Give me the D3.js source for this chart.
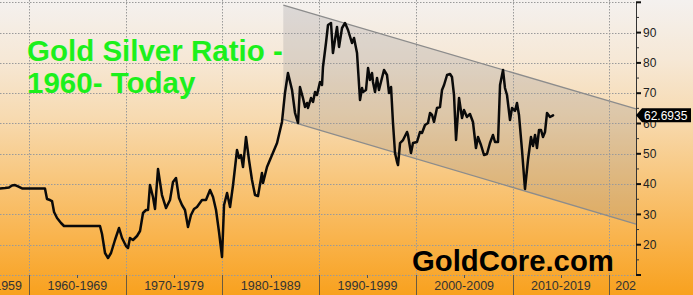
<!DOCTYPE html>
<html><head><meta charset="utf-8">
<script src="https://cdn.jsdelivr.net/npm/d3@7"></script>
<style>html,body{margin:0;padding:0;overflow:hidden;background:#fff}svg{display:block}</style>
</head><body>
<script>
const years = [1957.00,1957.52,1957.93,1958.24,1958.55,1958.86,1959.28,1960.10,1961.65,1961.86,1962.17,1962.38,1962.59,1962.90,1963.31,1963.62,1967.34,1967.55,1967.86,1968.17,1968.48,1968.89,1969.31,1969.62,1970.03,1970.24,1970.44,1970.75,1971.17,1971.48,1971.79,1972.10,1972.31,1972.51,1972.82,1973.03,1973.34,1973.75,1974.17,1974.58,1974.89,1975.20,1975.51,1975.82,1976.13,1976.44,1976.75,1977.06,1977.37,1977.89,1978.30,1978.72,1979.03,1979.34,1979.65,1979.96,1980.17,1980.48,1980.79,1981.10,1981.51,1981.72,1981.92,1982.13,1982.44,1982.75,1983.06,1983.37,1983.68,1984.09,1984.20,1984.61,1985.13,1985.65,1986.16,1986.47,1986.78,1987.20,1987.51,1987.82,1988.02,1988.33,1988.54,1988.75,1988.85,1989.16,1989.37,1989.58,1989.78,1990.09,1990.30,1990.40,1990.71,1990.92,1991.23,1991.43,1991.85,1992.06,1992.37,1992.68,1992.99,1993.40,1993.61,1993.92,1994.23,1994.44,1994.54,1994.85,1995.06,1995.26,1995.47,1995.57,1995.78,1995.99,1996.19,1996.50,1996.71,1997.02,1997.23,1997.44,1997.64,1997.85,1998.06,1998.16,1998.37,1998.68,1999.09,1999.19,1999.50,1999.71,2000.12,2000.43,2000.64,2000.95,2001.26,2001.47,2001.68,2001.88,2002.19,2002.50,2002.71,2002.92,2003.23,2003.54,2003.74,2003.95,2004.16,2004.47,2004.78,2004.98,2005.29,2005.60,2005.91,2006.22,2006.43,2006.74,2007.05,2007.36,2007.67,2007.98,2008.19,2008.50,2008.71,2009.02,2009.22,2009.43,2009.74,2009.95,2010.26,2010.46,2010.67,2010.98,2011.29,2011.60,2011.91,2012.12,2012.33,2012.53,2012.74,2012.95,2013.15,2013.36,2013.57,2013.88,2014.19];
const ratio = [38.55,38.71,38.88,39.54,39.70,39.21,38.55,38.55,38.55,35.08,34.75,34.42,30.79,28.81,27.16,26.17,26.17,23.53,17.26,15.60,17.26,21.55,25.51,22.21,19.57,18.91,22.21,21.55,22.87,24.52,30.46,31.45,31.45,39.70,35.74,31.78,44.98,36.40,32.11,34.75,40.69,42.01,35.41,33.10,31.45,25.84,29.80,31.78,32.44,34.75,34.75,38.05,35.74,31.45,24.19,15.94,33.10,37.06,32.44,39.70,51.25,48.61,49.60,45.64,55.54,47.95,41.35,36.40,36.07,43.66,40.36,45.64,49.60,53.56,60.50,70.07,76.67,71.06,63.47,60.17,72.05,68.42,65.45,66.77,65.12,68.42,67.10,70.40,69.41,73.70,72.71,78.65,86.57,92.51,93.17,83.27,91.85,85.25,91.52,93.17,90.86,86.57,88.22,83.27,67.75,71.72,70.40,71.06,78.32,74.36,76.67,73.70,70.40,75.02,71.06,75.02,77.66,76.01,70.07,72.05,60.17,50.26,47.29,46.30,53.56,54.55,57.20,56.21,50.26,53.56,53.89,57.20,56.86,59.50,60.17,63.47,62.81,60.50,65.12,65.45,71.06,72.71,76.01,76.34,75.35,69.41,54.55,68.42,61.81,64.46,62.15,63.14,60.50,51.91,55.54,52.90,49.60,49.93,53.56,56.21,53.89,53.89,72.71,77.66,71.72,69.41,61.16,65.12,64.13,66.77,62.81,51.25,38.38,47.95,55.54,52.57,56.21,51.91,57.85,57.85,55.54,57.20,63.47,62.15,62.69];
const decadeLabels = ["1950-1959","1960-1969","1970-1979","1980-1989","1990-1999","2000-2009","2010-2019","2020-2029"];
const decadeStarts = [1950,1960,1970,1980,1990,2000,2010,2020];
const yTicks = [20,30,40,50,60,70,80,90];
const channelUpper = [[1986.30,99.1],[2022.77,64.8]];
const channelLower = [[1986.30,61.4],[2022.77,26.8]];
const lastValueLabel = "62.6935";
const titleLines = ["Gold Silver Ratio -","1960- Today"];
const brand = "GoldCore.com";

const W = 693, H = 295;
const plotRight = 636, plotBottom = 275, plotTop = 2.3;
const x = d3.scaleLinear().domain([1957.0, 2022.77]).range([0, plotRight]);
const y = d3.scaleLinear().domain([10, 100]).range([plotBottom, plotTop]);

const svg = d3.select("body").append("svg").attr("width", W).attr("height", H);
const defs = svg.append("defs");
const g = defs.append("linearGradient").attr("id","bg").attr("x1",0).attr("y1",0).attr("x2",0).attr("y2",1);
[[0,"#f4f1ef"],[0.2,"#f6e8d6"],[0.4,"#f7dab0"],[0.6,"#f8c77e"],[0.8,"#f9b44e"],[1,"#f8a11e"]].forEach(s=>g.append("stop").attr("offset",s[0]).attr("stop-color",s[1]));
defs.append("clipPath").attr("id","plotclip").append("rect").attr("x",0).attr("y",0).attr("width",plotRight).attr("height",H);

svg.append("rect").attr("width",W).attr("height",H).attr("fill","url(#bg)");

// channel band
const band = [channelUpper[0], channelUpper[1], channelLower[1], channelLower[0]];
svg.append("path").attr("d", d3.line().x(d=>x(d[0])).y(d=>y(d[1]))(band)+"Z")
  .attr("fill","rgba(120,120,130,0.2)").attr("stroke","none");

// grid
const grid = svg.append("g").attr("stroke","#9a9a9a").attr("stroke-width",1).attr("stroke-dasharray","1.5,1.5").attr("fill","none");
d3.range(10,101,10).forEach(v=>grid.append("line").attr("x1",0).attr("x2",plotRight).attr("y1",Math.round(y(v))+0.5).attr("y2",Math.round(y(v))+0.5));
decadeStarts.slice(1).forEach(d=>grid.append("line").attr("x1",Math.round(x(d))+0.5).attr("x2",Math.round(x(d))+0.5).attr("y1",0).attr("y2",plotBottom));

// channel lines
[channelUpper, channelLower].forEach(c=>svg.append("line")
  .attr("x1",x(c[0][0])).attr("y1",y(c[0][1])).attr("x2",x(c[1][0])).attr("y2",y(c[1][1]))
  .attr("stroke","#8c8c8c").attr("stroke-width",1.3));

// title
const t = svg.append("text").attr("font-family","Liberation Sans, Arial, sans-serif").attr("font-weight","bold")
  .attr("font-size",29.5).attr("fill","#1cf01c");
t.append("tspan").attr("x",27).attr("y",61).text(titleLines[0]);
t.append("tspan").attr("x",27).attr("y",93).text(titleLines[1]);

// data line
const data = years.map((yr,i)=>[yr, ratio[i]]);
svg.append("path").datum(data)
  .attr("d", d3.line().x(d=>x(d[0])).y(d=>y(d[1])))
  .attr("fill","none").attr("stroke","#0a0a0a").attr("stroke-width",2.5)
  .attr("stroke-linejoin","round").attr("stroke-linecap","round");

// brand
svg.append("text").attr("x",412).attr("y",271).attr("font-family","Liberation Sans, Arial, sans-serif")
  .attr("font-weight","bold").attr("font-size",29.3).attr("fill","#000").text(brand);

// x axis labels
const xl = svg.append("g").attr("clip-path","url(#plotclip)");
const last = decadeStarts.length - 1;
decadeStarts.forEach((d,i)=>{
  let tx = x(d+5), anchor = "middle";
  if (i === 0) { tx = x(d+10) - 7; anchor = "end"; }
  if (i === last) { tx = x(d) + 6; anchor = "start"; }
  xl.append("text").attr("x",tx).attr("y",290).attr("text-anchor",anchor)
    .attr("font-family","Liberation Sans, Arial, sans-serif").attr("font-size",12.5).attr("fill","#333")
    .text(decadeLabels[i]);
  xl.append("line").attr("x1",Math.round(x(d))+0.5).attr("x2",Math.round(x(d))+0.5).attr("y1",plotBottom).attr("y2",H)
    .attr("stroke","#6a5a40").attr("stroke-width",1);
  xl.append("line").attr("x1",Math.round(x(d+5))+0.5).attr("x2",Math.round(x(d+5))+0.5).attr("y1",plotBottom).attr("y2",plotBottom+3)
    .attr("stroke","#555").attr("stroke-width",1);
});

// y axis
const ya = svg.append("g");
ya.append("line").attr("x1",plotRight+0.5).attr("x2",plotRight+0.5).attr("y1",plotTop).attr("y2",plotBottom+1).attr("stroke","#333").attr("stroke-width",1);
d3.range(10,101,10).forEach(v=>ya.append("line").attr("x1",plotRight).attr("x2",plotRight+5).attr("y1",y(v)).attr("y2",y(v)).attr("stroke","#111").attr("stroke-width",2));
d3.range(15,100,10).forEach(v=>ya.append("line").attr("x1",plotRight).attr("x2",plotRight+3).attr("y1",y(v)).attr("y2",y(v)).attr("stroke","#333").attr("stroke-width",1));
yTicks.forEach(v=>ya.append("text").attr("x",plotRight+7).attr("y",y(v)).attr("dy","0.35em")
  .attr("font-family","Liberation Sans, Arial, sans-serif").attr("font-size",12).attr("fill","#222").text(v));

// last value tag
const ly = y(ratio[ratio.length-1]);
svg.append("path").attr("d",`M${plotRight},${ly} L${plotRight+6},${ly-7} L691,${ly-7} L691,${ly+7} L${plotRight+6},${ly+7} Z`).attr("fill","#000");
svg.append("text").attr("x",plotRight+8).attr("y",ly).attr("dy","0.36em")
  .attr("font-family","Liberation Sans, Arial, sans-serif").attr("font-size",12).attr("fill","#fff").text(lastValueLabel);
</script>
</body></html>
